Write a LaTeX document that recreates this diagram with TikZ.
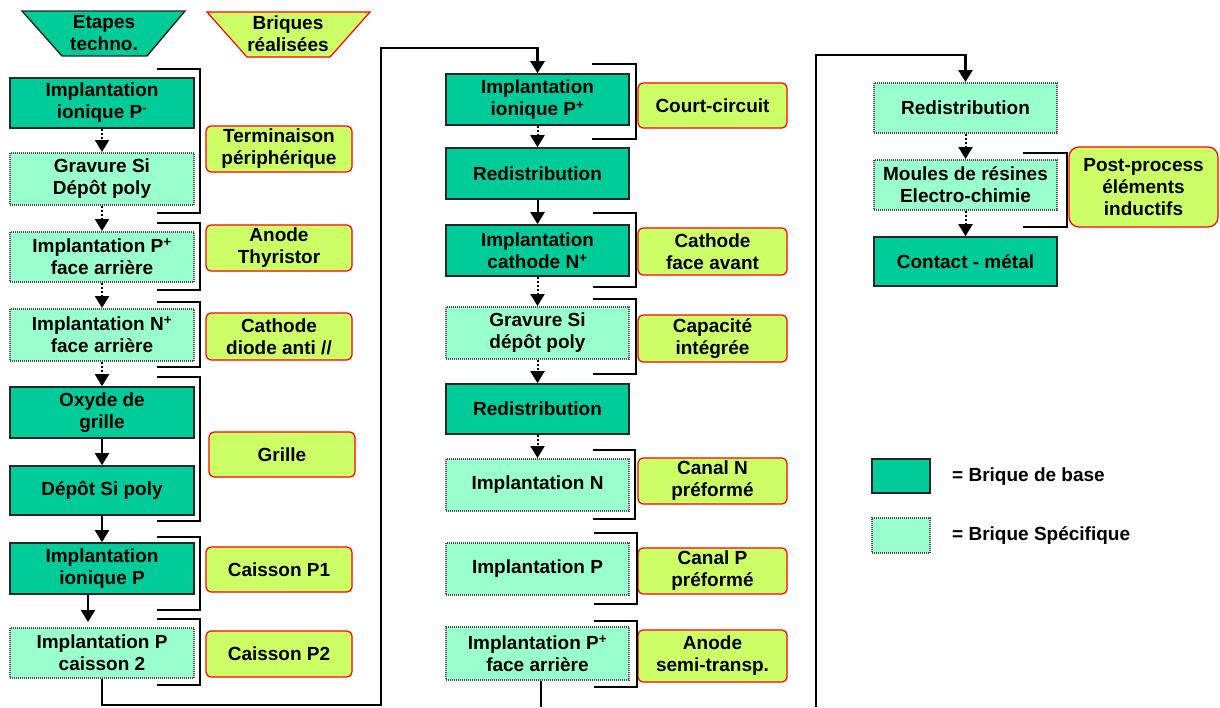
\documentclass[tikz,border=0pt]{standalone}
\usepackage{fontspec}
\setmainfont{Liberation Sans}
\usetikzlibrary{arrows.meta}
\definecolor{dk}{HTML}{00CC99}
\definecolor{lt}{HTML}{99FFCC}
\definecolor{lb}{HTML}{CCFF66}
\tikzset{
 txt/.style={align=center, font=\bfseries\fontsize{19}{22}\selectfont, inner sep=0pt},
 base/.style={txt, fill=dk, draw=black!85, line width=1.6pt, minimum width=183pt},
 spec/.style={txt, fill=lt, draw=black!70, line width=2pt, dash pattern=on 1pt off 1pt, minimum width=183pt},
 brick/.style={txt, fill=lb, draw=red, line width=1.2pt, rounded corners=5pt, minimum width=147pt},
 arr/.style={line width=2pt, -{Triangle[width=14pt,length=12pt]}},
 darr/.style={arr, dash pattern=on 2pt off 2pt},
 brk/.style={line width=2.6pt},
 brkm/.style={line width=2.1pt},
 brkthin/.style={line width=1.4pt},
 bigloop/.style={line width=2.5pt},
}
\begin{document}
\begin{tikzpicture}[x=1pt,y=-1pt]
\useasboundingbox (0,0) rectangle (1220,707);
% headers
\fill[dk] (22,11) -- (185,11) -- (147,56) -- (62,56) -- cycle;
\draw[black!85, line width=1.4pt] (22,11) -- (185,11) -- (147,56) -- (62,56) -- cycle;
\node[txt] (H1) at (104,33) {Etapes\\techno.};
\fill[lb] (207,12) -- (370,12) -- (330,57) -- (247,57) -- cycle;
\draw[red, line width=1.2pt] (207,12) -- (370,12) -- (330,57) -- (247,57) -- cycle;
\node[txt] (H2) at (288,34) {Briques\\réalisées};

% left column
\node[base, minimum width=184pt, minimum height=50pt] (B1) at (102,103) {Implantation\\ionique P\textsuperscript{-}};
\node[spec, minimum width=184pt, minimum height=52pt] (B2) at (102,179) {Gravure Si\\Dépôt poly};
\node[spec, minimum width=184pt, minimum height=50pt] (B3) at (102,257) {Implantation P\textsuperscript{+}\\face arrière};
\node[spec, minimum width=184pt, minimum height=52pt] (B4) at (102,335) {Implantation N\textsuperscript{+}\\face arrière};
\node[base, minimum width=184pt, minimum height=51pt] (B5) at (102,412.5) {Oxyde de\\grille};
\node[base, minimum width=184pt, minimum height=49pt] (B6) at (102,490.5) {Dépôt Si poly};
\node[base, minimum width=184pt, minimum height=51pt] (B7) at (102,568.5) {Implantation\\ionique P};
\node[spec, minimum width=184pt, minimum height=50pt] (B8) at (102,653) {Implantation P\\caisson 2};

\node[brick, minimum width=146pt, minimum height=46pt] (L1) at (279,149) {Terminaison\\périphérique};
\node[brick, minimum width=146pt, minimum height=46pt] (L2) at (279,248) {Anode\\Thyristor};
\node[brick, minimum width=146pt, minimum height=47pt] (L3) at (279,336.5) {Cathode\\diode anti //};
\node[brick, minimum width=146pt, minimum height=45pt] (L4) at (282,454.5) {Grille};
\node[brick, minimum width=146pt, minimum height=45pt] (L5) at (279,569.5) {Caisson P1};
\node[brick, minimum width=146pt, minimum height=46pt] (L6) at (279,654) {Caisson P2};

\draw[brk] (157,69) -| (200,213) -- (157,213);
\draw[brk] (157,223) -| (200,290) -- (157,290);
\draw[brkthin] (157,302) -| (200,367) -- (157,367);
\draw[brkm] (157,377) -| (200,521) -- (157,521);
\draw[brkm] (157,537) -| (200,610) -- (157,610);
\draw[brkm] (157,619) -| (200,685) -- (157,685);

\draw[darr] (B1.south) -- (B2.north);
\draw[darr] (B2.south) -- (B3.north);
\draw[darr] (B3.south) -- (B4.north);
\draw[darr] (B4.south) -- (B5.north);
\draw[arr] (B5.south) -- (B6.north);
\draw[arr] (B6.south) -- (B7.north);
\draw[arr, shorten >=5pt] ([xshift=-14pt]B7.south) -- ([xshift=-14pt]B8.north);

% middle column
\node[base, minimum height=51pt] (M1) at (537.5,99.5) {Implantation\\ionique P\textsuperscript{+}};
\node[base, minimum height=51pt] (M2) at (537.5,173.5) {Redistribution};
\node[base, minimum height=51pt] (M3) at (537.5,250.5) {Implantation\\cathode N\textsuperscript{+}};
\node[spec, minimum height=52pt] (M4) at (537.5,333) {Gravure Si\\dépôt poly};
\node[base, minimum height=50pt] (M5) at (537.5,409) {Redistribution};
\node[spec, minimum height=52pt] (M6) at (537.5,485) {Implantation N};
\node[spec, minimum height=52pt] (M7) at (537.5,569) {Implantation P};
\node[spec, minimum height=53pt] (M8) at (537.5,653.5) {Implantation P\textsuperscript{+}\\face arrière};

\node[brick, minimum width=149pt, minimum height=45pt] (N1) at (712.5,105.5) {Court-circuit};
\node[brick, minimum width=149pt, minimum height=47pt] (N2) at (712.5,251.5) {Cathode\\face avant};
\node[brick, minimum width=149pt, minimum height=47pt] (N3) at (712.5,338.5) {Capacité\\intégrée};
\node[brick, minimum width=149pt, minimum height=46pt] (N4) at (712.5,481) {Canal N\\préformé};
\node[brick, minimum width=149pt, minimum height=46pt] (N5) at (712.5,571) {Canal P\\préformé};
\node[brick, minimum width=149pt, minimum height=52pt] (N6) at (712.5,656) {Anode\\semi-transp.};

\draw[brk] (592,64) -| (636,139) -- (592,139);
\draw[brkm] (593,213) -| (636,287) -- (593,287);
\draw[brk] (593,299) -| (636,374) -- (593,374);
\draw[brkthin] (593,450) -| (635,519) -- (593,519);
\draw[brk] (594,533) -| (637,604) -- (594,604);
\draw[brk] (594,621) -| (637,687) -- (594,687);

\draw[darr] (M1.south) -- (M2.north);
\draw[arr] (M2.south) -- (M3.north);
\draw[darr] (M3.south) -- (M4.north);
\draw[darr] (M4.south) -- (M5.north);
\draw[darr] (M5.south) -- (M6.north);

% loop from left column to middle column
\coordinate (c1) at (381,705);
\coordinate (c2) at (381,48);
\draw[bigloop, -{Triangle[width=14pt,length=12pt]}] (B8.south) |- (c1) -- (c2) -| (M1.north);

% right column
\node[spec, minimum height=50pt] (R1) at (965.5,108) {Redistribution};
\node[spec, minimum height=50pt] (R2) at (965.5,185) {Moules de résines\\Electro-chimie};
\node[base, minimum height=49pt] (R3) at (965.5,261.5) {Contact - métal};
\node[brick, rounded corners=10pt, minimum width=149pt, minimum height=80pt] (P1) at (1143.5,187) {Post-process\\éléments\\inductifs};
\draw[brkthin, line width=1.2pt] (1023,153) -| (1067,227) -- (1023,227);
\draw[darr] (R1.south) -- (R2.north);
\draw[darr] (R2.south) -- (R3.north);

% connection middle to right
\coordinate (d0) at ([xshift=3.5pt]M8.south |- 0,707);
\draw[line width=1.5pt] ([xshift=3.5pt]M8.south) -- (d0);
\coordinate (d1) at (816,707);
\coordinate (d2) at (816,55);
\draw[bigloop, -{Triangle[width=14pt,length=12pt]}] (d1) -- (d2) -| (R1.north);

% legend
\node[base, minimum width=58pt, minimum height=34pt] (G1) at (901,476) {};
\node[txt, anchor=west] (G1t) at (952,477) {= Brique de base};
\node[spec, minimum width=58pt, minimum height=35pt] (G2) at (901,535.5) {};
\node[txt, anchor=west] (G2t) at (952,535) {= Brique Spécifique};
\end{tikzpicture}
\end{document}
